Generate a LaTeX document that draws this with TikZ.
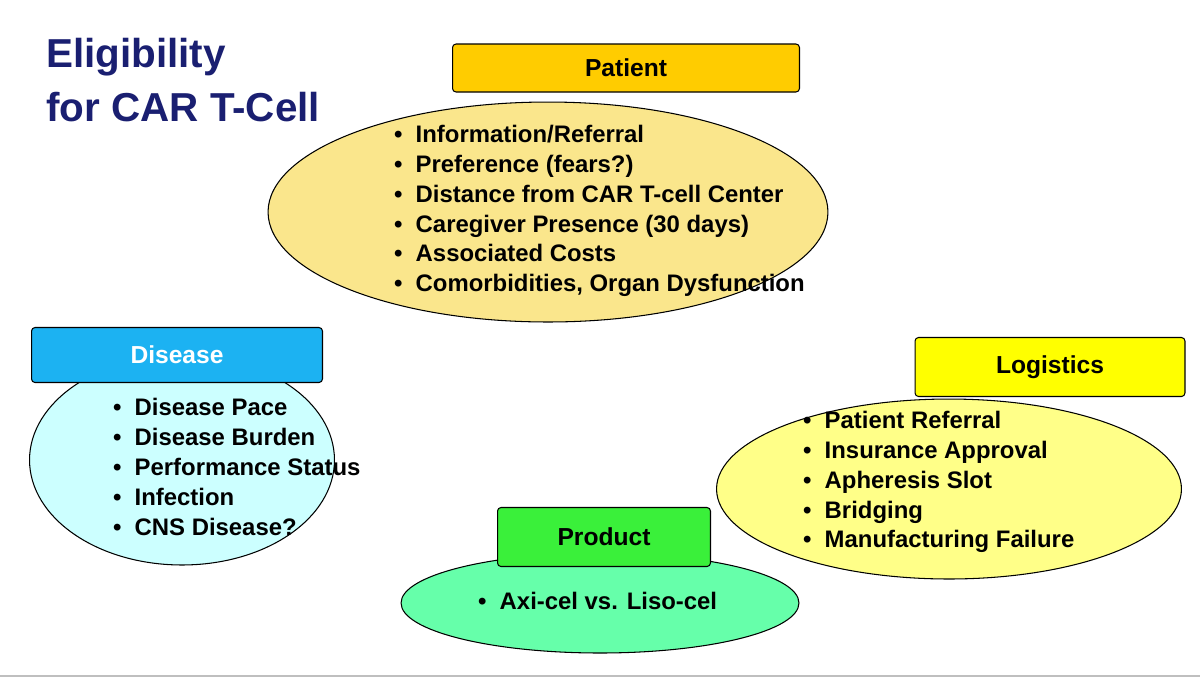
\documentclass[tikz,border=0pt]{standalone}
\usepackage{fontspec}
\setmainfont{Liberation Sans}
\usetikzlibrary{positioning,shapes.geometric}
\definecolor{navy}{HTML}{1A1F71}
\definecolor{patbox}{HTML}{FFCC00}
\definecolor{patfill}{HTML}{FAE68C}
\definecolor{disbox}{HTML}{1CB2F2}
\definecolor{disfill}{HTML}{CCFFFF}
\definecolor{probox}{HTML}{3AF03A}
\definecolor{profill}{HTML}{66FFAA}
\definecolor{logbox}{HTML}{FFFF00}
\definecolor{logfill}{HTML}{FFFF88}
\tikzset{
  oval/.style={ellipse,draw=black,line width=0.6pt},
  tag/.style={draw=black,line width=0.6pt,rounded corners=2pt,font=\bfseries\fontsize{14}{16}\selectfont},
  items/.style={align=left,font=\bfseries\fontsize{13.6}{17}\selectfont}
}
\begin{document}
\begin{tikzpicture}[x=0.02cm,y=-0.02cm]
\useasboundingbox (0,0) rectangle (1200,681);
\fill[white] (0,0) rectangle (1200,681);
\draw[black!25,line width=1.2pt] (0,676)--(1200,676);
\node[anchor=north west,align=left,text=navy,font=\bfseries\fontsize{23}{31}\selectfont] (title) at (40,32) {Eligibility\\for CAR T-Cell};
% Patient
\node[oval,fill=patfill,minimum width=11.2cm,minimum height=4.4cm] (pat) at (548,212) {};
\node[tag,fill=patbox,minimum width=6.94cm,minimum height=0.96cm] (patt) at (626,68) {Patient};
\node[items,anchor=west] (patl) at (388,211) {•\hspace{0.55em}Information/Referral\\•\hspace{0.55em}Preference (fears?)\\•\hspace{0.55em}Distance from CAR T-cell Center\\•\hspace{0.55em}Caregiver Presence (30 days)\\•\hspace{0.55em}Associated Costs\\•\hspace{0.55em}Comorbidities, Organ Dysfunction};
% Disease
\node[oval,fill=disfill,minimum width=6.1cm,minimum height=4.2cm] (dis) at (182,460) {};
\node[tag,fill=disbox,text=white,minimum width=5.82cm,minimum height=1.1cm] (dist) at (177,355) {Disease};
\node[items,anchor=west] (disl) at (107,467) {•\hspace{0.55em}Disease Pace\\•\hspace{0.55em}Disease Burden\\•\hspace{0.55em}Performance Status\\•\hspace{0.55em}Infection\\•\hspace{0.55em}CNS Disease?};
% Logistics
\node[oval,fill=logfill,minimum width=9.3cm,minimum height=3.6cm] (log) at (949,489) {};
\node[tag,fill=logbox,minimum width=5.4cm,minimum height=1.18cm] (logt) at (1050,367) {Logistics};
\node[items,anchor=west] (logl) at (797,482) {•\hspace{0.55em}Patient Referral\\•\hspace{0.55em}Insurance Approval\\•\hspace{0.55em}Apheresis Slot\\•\hspace{0.55em}Bridging\\•\hspace{0.55em}Manufacturing Failure};
% Product
\node[oval,fill=profill,minimum width=7.96cm,minimum height=2cm] (pro) at (600,603) {};
\node[tag,fill=probox,minimum width=4.26cm,minimum height=1.18cm] (prot) at (604,537) {Product};
\node[items,anchor=west] (prol) at (472,601) {•\hspace{0.55em}Axi-cel vs. Liso-cel};
\end{tikzpicture}
\end{document}
